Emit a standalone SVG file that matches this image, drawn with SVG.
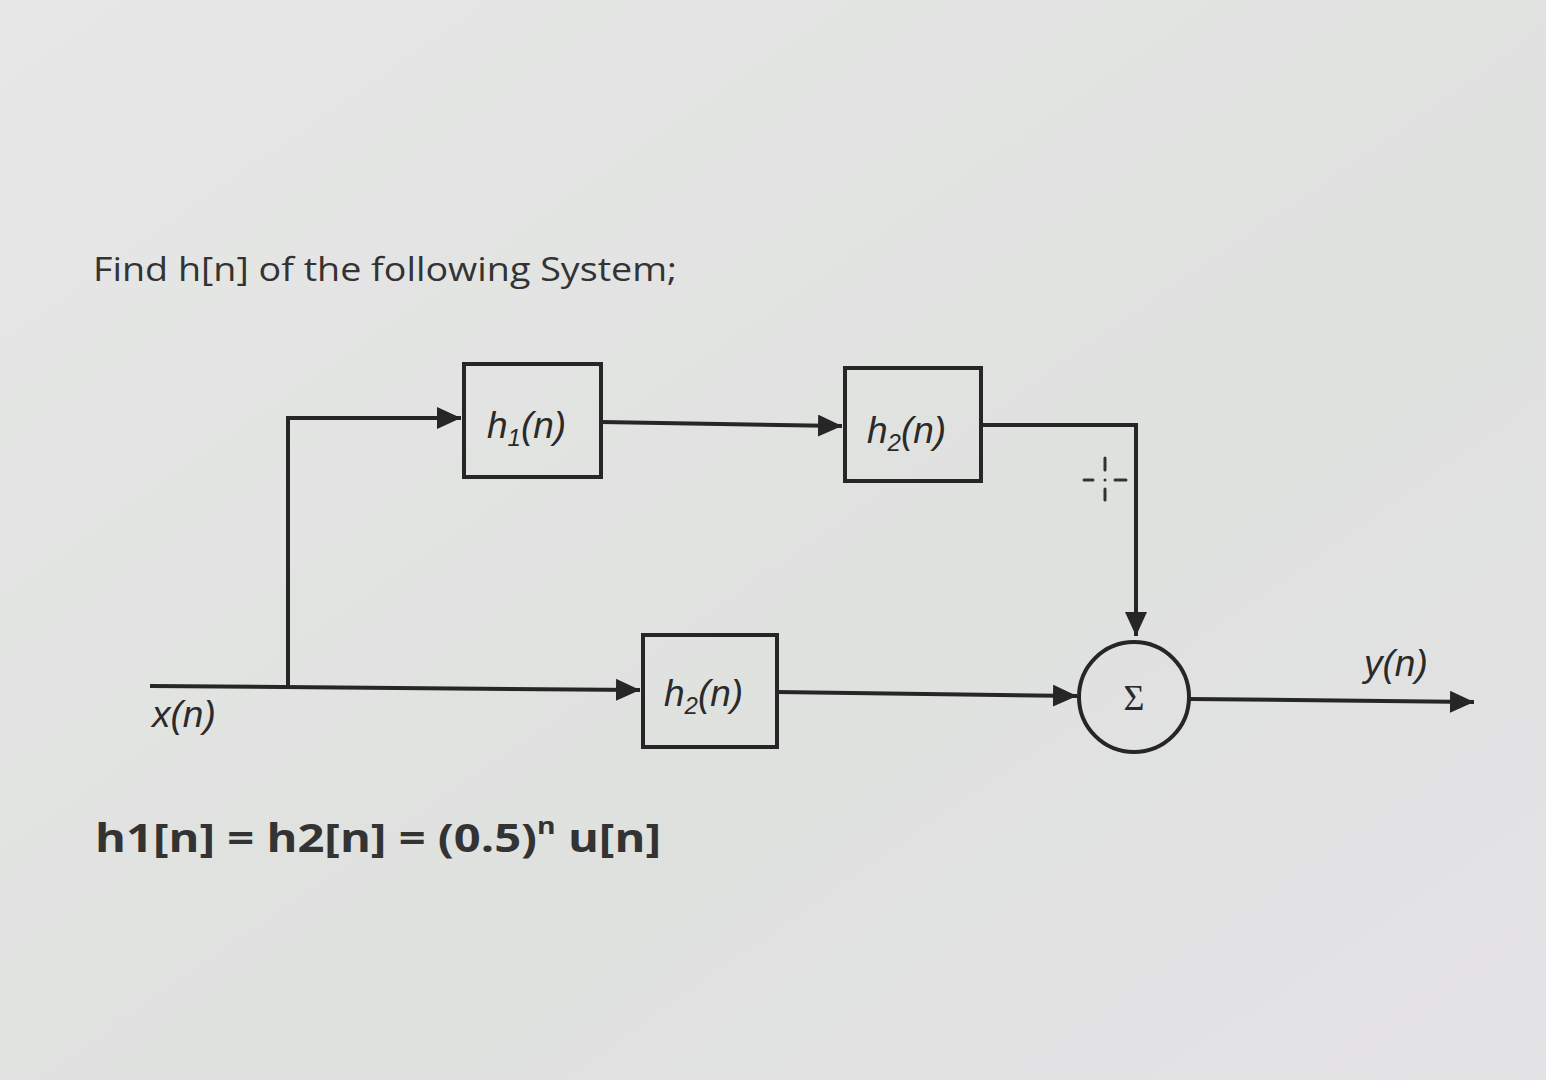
<svg xmlns="http://www.w3.org/2000/svg" width="1546" height="1080" viewBox="0 0 1546 1080">
<defs>
<linearGradient id="bg" x1="0" y1="0" x2="1" y2="1">
<stop offset="0" stop-color="#e6e7e6"/>
<stop offset="0.6" stop-color="#dfe1df"/>
<stop offset="1" stop-color="#e4e2e6"/>
</linearGradient>
<marker id="arr" viewBox="0 0 10 10" refX="10" refY="5" markerWidth="6" markerHeight="5.5" markerUnits="strokeWidth" orient="auto" preserveAspectRatio="none">
<path d="M0,0 L10,5 L0,10 Z" fill="#262626"/>
</marker>
</defs>
<style>
.ln{fill:none;stroke:#262626;stroke-width:4}
.box{fill:none;stroke:#262626;stroke-width:4}
.lbl{font-family:"Liberation Sans",Arial,sans-serif;font-style:italic;font-size:37px;fill:#2a2a2a}
.txt{font-family:"Open Sans","Liberation Sans",sans-serif;fill:#333}
</style>
<rect width="1546" height="1080" fill="url(#bg)"/>
<text class="txt" x="93" y="281" font-size="33" textLength="584" lengthAdjust="spacingAndGlyphs">Find h[n] of the following System;</text>
<g id="connectors">
<path class="ln" d="M150,686 L640,690" marker-end="url(#arr)"/>
<path class="ln" d="M288,686 L288,418 L461,418" marker-end="url(#arr)"/>
<path class="ln" d="M601,422 L842,426" marker-end="url(#arr)"/>
<path class="ln" d="M981,425 L1136,425 L1136,636" marker-end="url(#arr)"/>
<path class="ln" d="M777,692 L1077,696" marker-end="url(#arr)"/>
<path class="ln" d="M1190,699 L1474,702" marker-end="url(#arr)"/>
</g>
<g id="h1">
<rect class="box" x="464" y="364" width="137" height="113"/>
<text class="lbl" x="487" y="438">h<tspan font-size="24" dy="8">1</tspan><tspan dy="-8">(n)</tspan></text>
</g>
<g id="h2top">
<rect class="box" x="845" y="368" width="136" height="113"/>
<text class="lbl" x="867" y="443">h<tspan font-size="24" dy="8">2</tspan><tspan dy="-8">(n)</tspan></text>
</g>
<g id="h2bottom">
<rect class="box" x="643" y="635" width="134" height="112"/>
<text class="lbl" x="664" y="706">h<tspan font-size="24" dy="8">2</tspan><tspan dy="-8">(n)</tspan></text>
</g>
<g id="sum">
<circle cx="1134" cy="697" r="55" fill="none" stroke="#262626" stroke-width="4"/>
<text x="1134" y="710" font-family="Liberation Serif,serif" font-size="36" fill="#2a2a2a" text-anchor="middle">Σ</text>
</g>
<g id="cross" stroke="#333" stroke-width="3" stroke-linecap="round">
<line x1="1084" y1="480" x2="1093" y2="480"/>
<line x1="1115" y1="480" x2="1126" y2="480"/>
<line x1="1105" y1="458" x2="1105" y2="470"/>
<line x1="1105" y1="489" x2="1105" y2="500"/>
<circle cx="1105" cy="480" r="1.5" fill="#333" stroke="none"/>
</g>
<text class="lbl" x="152" y="727" font-size="40">x(n)</text>
<text class="lbl" x="1364" y="676">y(n)</text>
<text class="txt" x="95" y="852" font-size="40" font-weight="bold" textLength="566" lengthAdjust="spacingAndGlyphs">h1[n] = h2[n] = (0.5)<tspan font-size="24" dy="-18">n</tspan><tspan dy="18"> u[n]</tspan></text>
</svg>
